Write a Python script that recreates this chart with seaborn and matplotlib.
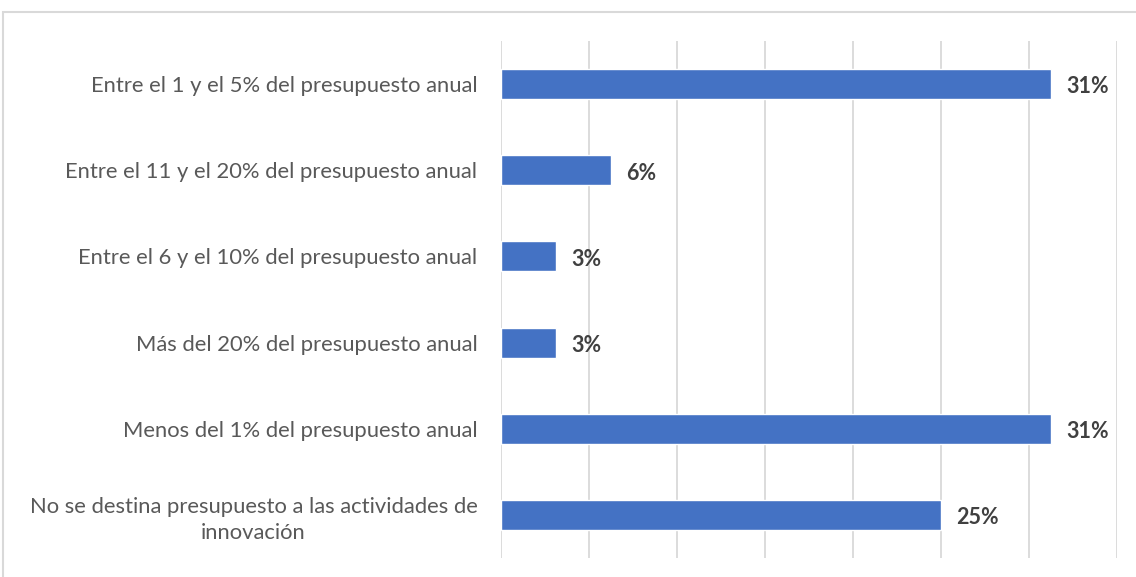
import matplotlib
matplotlib.use("Agg")
import matplotlib.pyplot as plt
import seaborn as sns
import pandas as pd
from matplotlib.patches import Rectangle

categories = [
    "Entre el 1 y el 5% del presupuesto anual",
    "Entre el 11 y el 20% del presupuesto anual",
    "Entre el 6 y el 10% del presupuesto anual",
    "Más del 20% del presupuesto anual",
    "Menos del 1% del presupuesto anual",
    "No se destina presupuesto a las actividades de\ninnovación",
]
values = [31.25, 6.25, 3.125, 3.125, 31.25, 25.0]
value_labels = ["31%", "6%", "3%", "3%", "31%", "25%"]

df = pd.DataFrame({"cat": categories, "val": values})

sns.set_theme(style="white")
plt.rcParams['font.family'] = ['Lato', 'DejaVu Sans']

fig = plt.figure(figsize=(11.36, 5.77), dpi=100)
ax = fig.add_axes([501/1136, 1 - 558/577, (1117 - 501)/1136, (558 - 41)/577])

sns.barplot(data=df, x="val", y="cat", color="#4472C4", saturation=1,
            width=0.35, ax=ax, orient="h")

ax.set_xlim(0, 35)
ax.set_xticks([0, 5, 10, 15, 20, 25, 30, 35])
ax.xaxis.grid(True, color="#D9D9D9", linewidth=1.3)
ax.set_axisbelow(True)
for s in ax.spines.values():
    s.set_visible(False)
ax.tick_params(axis="x", length=0, labelbottom=False)
ax.tick_params(axis="y", length=0, pad=17, labelsize=15.8, labelcolor="#595959")
for lab in ax.get_yticklabels():
    lab.set_multialignment("center")
    lab.set_linespacing(1.4)
ax.set_xlabel("")
ax.set_ylabel("")

for i, (v, t) in enumerate(zip(values, value_labels)):
    ax.annotate(t, xy=(v, i), xytext=(11, -2), textcoords="offset points",
                va="center", ha="left", fontsize=15.5, fontweight="bold",
                color="#404040")

fig.patches.append(Rectangle((3/1136, -0.1), 1.2, 1 - 12/577 + 0.1,
                             transform=fig.transFigure, fill=False,
                             edgecolor="#D9D9D9", linewidth=1.5))

fig.savefig("out.png", dpi=100)
